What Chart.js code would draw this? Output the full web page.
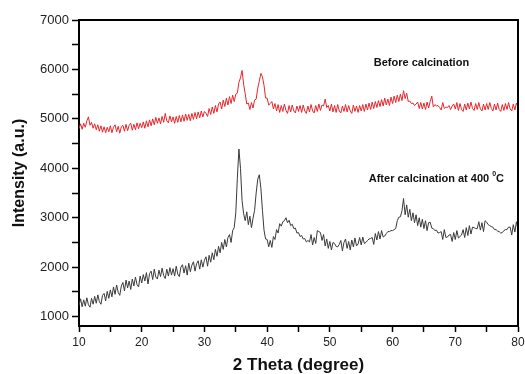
<!DOCTYPE html>
<html>
<head>
<meta charset="utf-8">
<title>XRD patterns before and after calcination</title>
<script src="https://cdn.jsdelivr.net/npm/chart.js@4/dist/chart.umd.min.js"></script>
<style>
  html, body { margin: 0; padding: 0; background: #fff; }
  canvas { display: block; }
</style>
</head>
<body>
<canvas id="xrd" width="525" height="374"></canvas>
<script>
// 2 theta scan from 10 to 80 degrees, one reading every 0.25 degree
const thetaStart = 10;
const thetaStep = 0.25;

// intensities, 20 readings (5 degrees) per row
const beforeCalcination = [
  4800, 4900, 4790, 4910, 4830, 4960, 5040, 4870, 4930, 4810, 4900, 4780, 4880, 4750, 4860, 4730, 4840, 4720, 4830, 4740,
  4860, 4720, 4830, 4880, 4740, 4850, 4710, 4840, 4870, 4750, 4890, 4760, 4870, 4910, 4770, 4890, 4780, 4920, 4800, 4910,
  4820, 4940, 4810, 4960, 4840, 4980, 4860, 5000, 4880, 5030, 4910, 5020, 4900, 5050, 4930, 5110, 4960, 4920, 5060, 4940,
  5040, 4910, 5050, 4930, 5070, 4940, 5080, 4950, 5100, 4970, 5090, 4960, 5110, 4990, 5130, 5000, 5140, 5020, 5160, 5040,
  5150, 5110, 5050, 5210, 5090, 5240, 5110, 5270, 5140, 5300, 5340, 5200, 5380, 5250, 5420, 5280, 5450, 5310, 5480, 5350,
  5500, 5520, 5740, 5830, 5980, 5700, 5510, 5300, 5320, 5190, 5330, 5220, 5380, 5400, 5620, 5760, 5920, 5850, 5680, 5420,
  5420, 5280, 5310, 5350, 5200, 5310, 5160, 5290, 5130, 5270, 5150, 5300, 5170, 5110, 5270, 5140, 5280, 5160, 5120, 5260,
  5150, 5270, 5130, 5280, 5160, 5110, 5260, 5140, 5290, 5160, 5120, 5270, 5150, 5300, 5170, 5280, 5260, 5400, 5230, 5270,
  5160, 5300, 5140, 5270, 5130, 5290, 5160, 5120, 5260, 5150, 5290, 5140, 5270, 5160, 5110, 5280, 5150, 5260, 5130, 5270,
  5160, 5290, 5150, 5300, 5180, 5320, 5190, 5340, 5210, 5350, 5230, 5370, 5250, 5390, 5260, 5420, 5280, 5400, 5270, 5440,
  5310, 5460, 5330, 5480, 5350, 5500, 5370, 5570, 5410, 5520, 5350, 5360, 5310, 5320, 5270, 5300, 5340, 5210, 5330, 5200,
  5320, 5190, 5340, 5220, 5350, 5460, 5240, 5290, 5260, 5270, 5230, 5180, 5330, 5210, 5240, 5230, 5270, 5190, 5260, 5300,
  5200, 5330, 5170, 5310, 5190, 5150, 5300, 5180, 5320, 5200, 5340, 5210, 5170, 5310, 5190, 5330, 5200, 5160, 5300, 5180,
  5310, 5190, 5330, 5210, 5160, 5300, 5180, 5320, 5190, 5150, 5290, 5170, 5310, 5190, 5330, 5200, 5160, 5300, 5180, 5320,
  5240
];

const afterCalcination = [
  1220, 1360, 1200, 1340, 1210, 1380, 1240, 1190, 1370, 1250, 1410, 1270, 1440, 1300, 1250, 1430, 1470, 1320, 1510, 1370,
  1540, 1400, 1600, 1450, 1640, 1490, 1430, 1620, 1690, 1520, 1740, 1580, 1720, 1550, 1760, 1620, 1800, 1650, 1600, 1820,
  1680, 1850, 1720, 1890, 1660, 1870, 1920, 1750, 1960, 1800, 1760, 1940, 1810, 1980, 1830, 1770, 1960, 1820, 1990, 1840,
  1970, 1820, 2020, 1860, 1810, 2000, 2050, 1880, 2030, 1840, 2080, 1910, 2040, 2110, 1920, 2070, 2130, 1960, 2150, 2000,
  2140, 2210, 2020, 2240, 2100, 2290, 2150, 2360, 2220, 2420, 2290, 2500, 2360, 2560, 2410, 2600, 2660, 2500, 2740, 2800,
  3100, 3800, 4390, 4000, 3350, 3080, 2940, 3120, 2860, 3030, 2800, 2990, 3150, 3500, 3780, 3870, 3600, 3150, 2750, 2570,
  2560, 2410, 2540, 2400, 2620, 2560, 2760, 2690, 2880, 2830, 2920, 2940, 3000, 2900, 2950, 2840, 2870, 2780, 2790, 2690,
  2700, 2620, 2640, 2570, 2580, 2510, 2540, 2510, 2660, 2450, 2600, 2480, 2740, 2720, 2700, 2540, 2660, 2430, 2570, 2380,
  2520, 2350, 2500, 2480, 2420, 2410, 2460, 2540, 2330, 2500, 2570, 2380, 2520, 2350, 2550, 2410, 2590, 2430, 2470, 2600,
  2450, 2610, 2480, 2500, 2540, 2570, 2580, 2600, 2460, 2680, 2550, 2720, 2570, 2740, 2610, 2630, 2680, 2720, 2720, 2740,
  2740, 2760, 2780, 2940, 3010, 3020, 3140, 3390, 3060, 3260, 3010, 3170, 2940, 3100, 2900, 3060, 2840, 3000, 2810, 2970,
  2780, 2940, 2740, 2900, 2910, 2790, 2780, 2740, 2750, 2690, 2700, 2720, 2560, 2760, 2600, 2610, 2650, 2660, 2520, 2700,
  2560, 2740, 2590, 2620, 2650, 2760, 2600, 2800, 2640, 2840, 2670, 2810, 2800, 2780, 2780, 2920, 2750, 2900, 2720, 2940,
  2910, 2860, 2840, 2820, 2810, 2760, 2760, 2730, 2720, 2690, 2700, 2740, 2760, 2760, 2810, 2810, 2650, 2860, 2710, 2920,
  2760
];

const xTicks = [10, 15, 20, 25, 30, 35, 40, 45, 50, 55, 60, 65, 70, 75, 80];
const xLabels = [10, 20, 30, 40, 50, 60, 70, 80];
const yTicks = [1000, 1500, 2000, 2500, 3000, 3500, 4000, 4500, 5000, 5500, 6000, 6500, 7000];
const yLabels = [1000, 2000, 3000, 4000, 5000, 6000, 7000];

const notes = [
  { text: "Before calcination", theta: 57.0, intensity: 6130 },
  { text: "After calcination at 400 ", sup: "0", tail: "C", theta: 56.2, intensity: 3790 }
];

function toPoints(values) {
  return values.map((v, i) => ({ x: thetaStart + i * thetaStep, y: v }));
}

const frameAndNotes = {
  id: "frameAndNotes",
  afterDraw(chart) {
    const ctx = chart.ctx;
    const area = chart.chartArea;
    const xs = chart.scales.x;
    const ys = chart.scales.y;
    ctx.save();
    ctx.strokeStyle = "#000";
    ctx.lineWidth = 2;
    ctx.beginPath();
    ctx.moveTo(area.left, area.top);
    ctx.lineTo(area.right, area.top);
    ctx.lineTo(area.right, area.bottom);
    ctx.stroke();

    ctx.fillStyle = "#111";
    ctx.textBaseline = "middle";
    ctx.textAlign = "left";
    notes.forEach(n => {
      let px = xs.getPixelForValue(n.theta);
      const py = ys.getPixelForValue(n.intensity);
      ctx.font = "bold 11px 'Liberation Sans', Arial, sans-serif";
      ctx.fillText(n.text, px, py);
      if (n.sup) {
        px += ctx.measureText(n.text).width;
        ctx.font = "bold 7px 'Liberation Sans', Arial, sans-serif";
        ctx.fillText(n.sup, px, py - 5);
        px += ctx.measureText(n.sup).width;
        ctx.font = "bold 11px 'Liberation Sans', Arial, sans-serif";
        ctx.fillText(n.tail, px, py);
      }
    });
    ctx.restore();
  }
};

new Chart(document.getElementById("xrd"), {
  type: "line",
  data: {
    datasets: [
      {
        label: "Before calcination",
        data: toPoints(beforeCalcination),
        borderColor: "#e8262c",
        borderWidth: 1,
        pointRadius: 0,
        tension: 0
      },
      {
        label: "After calcination at 400 °C",
        data: toPoints(afterCalcination),
        borderColor: "#3a3a3a",
        borderWidth: 1,
        pointRadius: 0,
        tension: 0
      }
    ]
  },
  options: {
    responsive: false,
    animation: false,
    devicePixelRatio: 1,
    layout: { padding: { top: 20, right: 7, left: 0, bottom: 0 } },
    plugins: {
      legend: { display: false },
      tooltip: { enabled: false }
    },
    scales: {
      x: {
        type: "linear",
        min: 10,
        max: 80,
        afterBuildTicks: s => { s.ticks = xTicks.map(v => ({ value: v })); },
        afterFit: s => { s.height = 48; s.paddingLeft = 0; s.paddingRight = 0; },
        grid: { drawOnChartArea: false, drawTicks: true, tickLength: 6, tickColor: "#000", tickWidth: 1.5 },
        border: { display: true, color: "#000", width: 2 },
        ticks: {
          color: "#222",
          padding: 3,
          maxRotation: 0,
          autoSkip: false,
          font: { family: "'Liberation Sans', Arial, sans-serif", size: 12 },
          callback: v => xLabels.includes(v) ? String(v) : ""
        },
        title: {
          display: true,
          text: "2 Theta (degree)",
          color: "#111",
          padding: { top: 0, bottom: 0 },
          font: { family: "'Liberation Sans', Arial, sans-serif", size: 17, weight: "bold", lineHeight: 1 }
        }
      },
      y: {
        type: "linear",
        min: 810,
        max: 7000,
        afterBuildTicks: s => { s.ticks = yTicks.map(v => ({ value: v })); },
        afterFit: s => { s.width = 79; },
        grid: { drawOnChartArea: false, drawTicks: true, tickLength: 7, tickColor: "#000", tickWidth: 1.5 },
        border: { display: true, color: "#000", width: 2 },
        ticks: {
          color: "#222",
          padding: 3,
          autoSkip: false,
          font: { family: "'Liberation Sans', Arial, sans-serif", size: 13 },
          callback: v => yLabels.includes(v) ? String(v) : ""
        },
        title: {
          display: true,
          text: "Intensity (a.u.)",
          color: "#111",
          padding: { top: 10, bottom: 0 },
          font: { family: "'Liberation Sans', Arial, sans-serif", size: 16, weight: "bold", lineHeight: 1.2 }
        }
      }
    }
  },
  plugins: [frameAndNotes]
});
</script>
</body>
</html>
